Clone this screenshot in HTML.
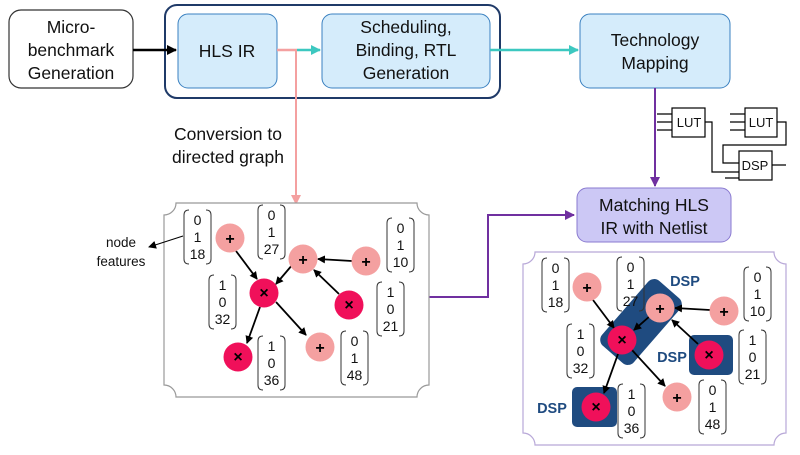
<!DOCTYPE html>
<html><head><meta charset="utf-8"><style>
html,body{margin:0;padding:0;background:#fff;}
svg{display:block;font-family:"Liberation Sans",Arial,sans-serif;}
</style></head><body>
<svg width="800" height="455" viewBox="0 0 800 455" xmlns="http://www.w3.org/2000/svg">
<defs>
<marker id="ak" markerWidth="8" markerHeight="8" refX="7" refY="4" orient="auto" markerUnits="userSpaceOnUse"><path d="M0,0 L8,4 L0,8z" fill="#000"/></marker>
<marker id="at" markerWidth="10" markerHeight="10" refX="9" refY="5" orient="auto" markerUnits="userSpaceOnUse"><path d="M0,0 L10,5 L0,10z" fill="#3cc8c0"/></marker>
<marker id="ap" markerWidth="10" markerHeight="10" refX="9" refY="5" orient="auto" markerUnits="userSpaceOnUse"><path d="M0,0 L10,5 L0,10z" fill="#f4a0a0"/></marker>
<marker id="av" markerWidth="10" markerHeight="10" refX="9" refY="5" orient="auto" markerUnits="userSpaceOnUse"><path d="M0,0 L10,5 L0,10z" fill="#7030a0"/></marker>
<marker id="ab" markerWidth="10" markerHeight="10" refX="9" refY="5" orient="auto" markerUnits="userSpaceOnUse"><path d="M0,0 L10,5 L0,10z" fill="#000"/></marker>
</defs>

<rect x="9" y="10" width="124" height="78" rx="12" fill="#fff" stroke="#333" stroke-width="1.2"/>
<text font-size="17.5" text-anchor="middle" fill="#111"><tspan x="71" y="33">Micro-</tspan><tspan x="71" y="56">benchmark</tspan><tspan x="71" y="79">Generation</tspan></text>
<rect x="165" y="5" width="335" height="93" rx="12" fill="#fff" stroke="#1f3a68" stroke-width="2"/>
<rect x="178" y="14" width="99" height="74" rx="10" fill="#d5ecfb" stroke="#3a80c0" stroke-width="1"/>
<text x="227" y="57" font-size="17.5" text-anchor="middle" fill="#111">HLS IR</text>
<rect x="322" y="14" width="168" height="74" rx="10" fill="#d5ecfb" stroke="#3a80c0" stroke-width="1"/>
<text font-size="17.5" text-anchor="middle" fill="#111"><tspan x="406" y="33">Scheduling,</tspan><tspan x="406" y="56">Binding, RTL</tspan><tspan x="406" y="79">Generation</tspan></text>
<rect x="580" y="14" width="150" height="74" rx="10" fill="#d5ecfb" stroke="#3a80c0" stroke-width="1"/>
<text font-size="17.5" text-anchor="middle" fill="#111"><tspan x="655" y="46">Technology</tspan><tspan x="655" y="69">Mapping</tspan></text>

<line x1="133" y1="50" x2="176" y2="50" stroke="#000" stroke-width="2.5" marker-end="url(#ab)"/>
<line x1="277" y1="50" x2="297" y2="50" stroke="#f4a0a0" stroke-width="2.5"/>
<line x1="297" y1="50" x2="320" y2="50" stroke="#3cc8c0" stroke-width="2.5" marker-end="url(#at)"/>
<line x1="490" y1="50" x2="578" y2="50" stroke="#3cc8c0" stroke-width="2.5" marker-end="url(#at)"/>
<line x1="296" y1="50" x2="296" y2="204" stroke="#f4a0a0" stroke-width="2" marker-end="url(#ap)"/>
<text font-size="17.5" text-anchor="middle" fill="#111"><tspan x="228" y="140">Conversion to</tspan><tspan x="228" y="163">directed graph</tspan></text>

<line x1="655" y1="88" x2="655" y2="186" stroke="#7030a0" stroke-width="2" marker-end="url(#av)"/>
<rect x="577" y="188" width="154" height="54" rx="10" fill="#ccc8f5" stroke="#8a7ad0" stroke-width="1"/>
<text font-size="17.5" text-anchor="middle" fill="#111"><tspan x="654" y="211">Matching HLS</tspan><tspan x="654" y="234">IR with Netlist</tspan></text>
<polyline points="429,297 488,297 488,215 574,215" fill="none" stroke="#7030a0" stroke-width="2" marker-end="url(#av)"/>

<g stroke="#000" stroke-width="1.2" fill="none">
<rect x="672" y="108" width="33" height="29" fill="#fff"/>
<rect x="745" y="108" width="32" height="29" fill="#fff"/>
<rect x="739" y="151" width="33" height="29" fill="#fff"/>
<path d="M657,114H672M657,122H672M657,130H672"/>
<path d="M730,114H745M730,122H745M730,130H745"/>
<path d="M705,122H712V172H739"/>
<path d="M777,122H786V145H723V163H739"/>
<path d="M725,178H739M772,165H786"/>
</g>
<g font-size="13" text-anchor="middle" fill="#111"><text x="689" y="127">LUT</text><text x="761" y="127">LUT</text><text x="755" y="170">DSP</text></g>

<path d="M176,203H417A12,12 0 0 0 429,215V385A12,12 0 0 0 417,397H176A12,12 0 0 0 164,385V215A12,12 0 0 0 176,203Z" fill="#fff" stroke="#999" stroke-width="1.2"/>
<text font-size="13.5" text-anchor="middle" fill="#111"><tspan x="121" y="247">node</tspan><tspan x="121" y="266">features</tspan></text>
<line x1="183" y1="236" x2="149" y2="247" stroke="#000" stroke-width="1" marker-end="url(#ak)"/>

<g stroke="#000" stroke-width="1.8" marker-end="url(#ak)">
<line x1="236" y1="251" x2="257" y2="279"/>
<line x1="293" y1="264" x2="276" y2="284"/>
<line x1="352" y1="261" x2="318" y2="259"/>
<line x1="339" y1="294" x2="314" y2="270"/>
<line x1="260" y1="307" x2="247" y2="343"/>
<line x1="276" y1="302" x2="306" y2="335"/>
</g>
<g>
<circle cx="230" cy="238" r="14.5" fill="#f4a0a0"/><circle cx="303" cy="259" r="14.5" fill="#f4a0a0"/>
<circle cx="366" cy="261" r="14.5" fill="#f4a0a0"/><circle cx="320" cy="347" r="14.5" fill="#f4a0a0"/>
<circle cx="264" cy="293" r="14.5" fill="#f0105a"/><circle cx="349" cy="305" r="14.5" fill="#f0105a"/>
<circle cx="238" cy="357" r="14.5" fill="#f0105a"/>
</g>
<g font-size="16" font-weight="bold" text-anchor="middle" fill="#000">
<text x="230" y="244">+</text><text x="303" y="265">+</text><text x="366" y="267">+</text><text x="320" y="353">+</text>
<text x="264" y="298">×</text><text x="349" y="310">×</text><text x="238" y="362">×</text>
</g>

<path d="M535,252H774A12,12 0 0 0 786,264V433A12,12 0 0 0 774,445H535A12,12 0 0 0 523,433V264A12,12 0 0 0 535,252Z" fill="#fff" stroke="#b8a8d8" stroke-width="1.2"/>
<rect x="598" y="301" width="86" height="42" rx="8" fill="#1f4b80" transform="rotate(-49 641 322)"/>
<rect x="689" y="335" width="44" height="40" rx="5" fill="#1f4b80"/>
<rect x="572" y="387" width="45" height="40" rx="5" fill="#1f4b80"/>
<g font-size="14.5" font-weight="bold" fill="#1f4b80" text-anchor="middle">
<text x="685" y="286">DSP</text><text x="672" y="362">DSP</text><text x="552" y="413">DSP</text>
</g>
<g stroke="#000" stroke-width="1.8" marker-end="url(#ak)">
<line x1="593" y1="300" x2="614" y2="328"/>
<line x1="650" y1="316" x2="634" y2="330"/>
<line x1="710" y1="310" x2="675" y2="308"/>
<line x1="698" y1="344" x2="672" y2="320"/>
<line x1="618" y1="354" x2="604" y2="393"/>
<line x1="632" y1="350" x2="665" y2="386"/>
</g>
<g>
<circle cx="587" cy="287" r="14.5" fill="#f4a0a0"/><circle cx="660" cy="308" r="14.5" fill="#f4a0a0"/>
<circle cx="724" cy="311" r="14.5" fill="#f4a0a0"/><circle cx="677" cy="397" r="14.5" fill="#f4a0a0"/>
<circle cx="622" cy="340" r="14.5" fill="#f0105a"/><circle cx="709" cy="355" r="14.5" fill="#f0105a"/>
<circle cx="596" cy="407" r="14.5" fill="#f0105a"/>
</g>
<g font-size="16" font-weight="bold" text-anchor="middle" fill="#000">
<text x="587" y="293">+</text><text x="660" y="314">+</text><text x="724" y="317">+</text><text x="677" y="403">+</text>
<text x="622" y="345">×</text><text x="709" y="360">×</text><text x="596" y="412">×</text>
</g>

<g font-size="14" text-anchor="middle" fill="#111">
<g transform="translate(183,210)"><path d="M6,0Q1,0 1,5V49Q1,54 6,54M23,0Q28,0 28,5V49Q28,54 23,54" fill="none" stroke="#333"/><text x="14.5" y="15">0</text><text x="14.5" y="32">1</text><text x="14.5" y="49">18</text></g>
<g transform="translate(257,205)"><path d="M6,0Q1,0 1,5V49Q1,54 6,54M23,0Q28,0 28,5V49Q28,54 23,54" fill="none" stroke="#333"/><text x="14.5" y="15">0</text><text x="14.5" y="32">1</text><text x="14.5" y="49">27</text></g>
<g transform="translate(386,218)"><path d="M6,0Q1,0 1,5V49Q1,54 6,54M23,0Q28,0 28,5V49Q28,54 23,54" fill="none" stroke="#333"/><text x="14.5" y="15">0</text><text x="14.5" y="32">1</text><text x="14.5" y="49">10</text></g>
<g transform="translate(208,275)"><path d="M6,0Q1,0 1,5V49Q1,54 6,54M23,0Q28,0 28,5V49Q28,54 23,54" fill="none" stroke="#333"/><text x="14.5" y="15">1</text><text x="14.5" y="32">0</text><text x="14.5" y="49">32</text></g>
<g transform="translate(376,282)"><path d="M6,0Q1,0 1,5V49Q1,54 6,54M23,0Q28,0 28,5V49Q28,54 23,54" fill="none" stroke="#333"/><text x="14.5" y="15">1</text><text x="14.5" y="32">0</text><text x="14.5" y="49">21</text></g>
<g transform="translate(257,336)"><path d="M6,0Q1,0 1,5V49Q1,54 6,54M23,0Q28,0 28,5V49Q28,54 23,54" fill="none" stroke="#333"/><text x="14.5" y="15">1</text><text x="14.5" y="32">0</text><text x="14.5" y="49">36</text></g>
<g transform="translate(340,331)"><path d="M6,0Q1,0 1,5V49Q1,54 6,54M23,0Q28,0 28,5V49Q28,54 23,54" fill="none" stroke="#333"/><text x="14.5" y="15">0</text><text x="14.5" y="32">1</text><text x="14.5" y="49">48</text></g>
<g transform="translate(541,258)"><path d="M6,0Q1,0 1,5V49Q1,54 6,54M23,0Q28,0 28,5V49Q28,54 23,54" fill="none" stroke="#333"/><text x="14.5" y="15">0</text><text x="14.5" y="32">1</text><text x="14.5" y="49">18</text></g>
<g transform="translate(616,257)"><path d="M6,0Q1,0 1,5V49Q1,54 6,54M23,0Q28,0 28,5V49Q28,54 23,54" fill="none" stroke="#333"/><text x="14.5" y="15">0</text><text x="14.5" y="32">1</text><text x="14.5" y="49">27</text></g>
<g transform="translate(743,267)"><path d="M6,0Q1,0 1,5V49Q1,54 6,54M23,0Q28,0 28,5V49Q28,54 23,54" fill="none" stroke="#333"/><text x="14.5" y="15">0</text><text x="14.5" y="32">1</text><text x="14.5" y="49">10</text></g>
<g transform="translate(566,324)"><path d="M6,0Q1,0 1,5V49Q1,54 6,54M23,0Q28,0 28,5V49Q28,54 23,54" fill="none" stroke="#333"/><text x="14.5" y="15">1</text><text x="14.5" y="32">0</text><text x="14.5" y="49">32</text></g>
<g transform="translate(738,330)"><path d="M6,0Q1,0 1,5V49Q1,54 6,54M23,0Q28,0 28,5V49Q28,54 23,54" fill="none" stroke="#333"/><text x="14.5" y="15">1</text><text x="14.5" y="32">0</text><text x="14.5" y="49">21</text></g>
<g transform="translate(617,384)"><path d="M6,0Q1,0 1,5V49Q1,54 6,54M23,0Q28,0 28,5V49Q28,54 23,54" fill="none" stroke="#333"/><text x="14.5" y="15">1</text><text x="14.5" y="32">0</text><text x="14.5" y="49">36</text></g>
<g transform="translate(698,380)"><path d="M6,0Q1,0 1,5V49Q1,54 6,54M23,0Q28,0 28,5V49Q28,54 23,54" fill="none" stroke="#333"/><text x="14.5" y="15">0</text><text x="14.5" y="32">1</text><text x="14.5" y="49">48</text></g>
</g>
</svg>
</body></html>
